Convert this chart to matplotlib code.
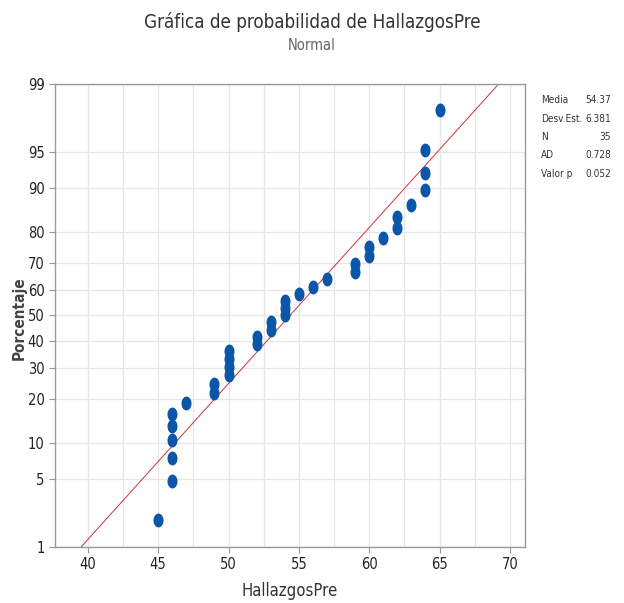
import numpy as np
import matplotlib
matplotlib.use("Agg")
import matplotlib.pyplot as plt
from matplotlib.path import Path
from matplotlib import font_manager
from matplotlib.font_manager import FontProperties
from statistics import NormalDist

# Data
values = [45, 46, 47, 49, 50, 52, 53, 54, 55, 56, 57, 59, 60, 61, 62, 63, 64, 65]
counts = [1, 5, 1, 2, 4, 2, 2, 3, 1, 1, 1, 2, 2, 1, 2, 1, 3, 1]
mean_val = 54.37
sd_val = 6.381
ad_val = 0.728
p_val = 0.052
pct_ticks = [1, 5, 10, 20, 30, 40, 50, 60, 70, 80, 90, 95, 99]
x_ticks = [40, 45, 50, 55, 60, 65, 70]

nd = NormalDist()
data = np.repeat(values, counts)
n = len(data)
ranks = np.arange(1, n + 1)
probs = (ranks - 0.3) / (n + 0.4)
yq = np.array([nd.inv_cdf(p) for p in probs])

cond = [f for f in font_manager.fontManager.ttflist
        if f.name == 'DejaVu Sans' and 'ondensed' in f.fname and 'Bold' not in f.fname
        and 'Oblique' not in f.fname]
condb = [f for f in font_manager.fontManager.ttflist
         if f.name == 'DejaVu Sans' and 'ondensed' in f.fname and 'Bold' in f.fname
         and 'Oblique' not in f.fname]


def fp(size):
    if cond:
        return FontProperties(fname=cond[0].fname, size=size)
    return FontProperties(family='DejaVu Sans', size=size)


def fpb(size):
    if condb:
        return FontProperties(fname=condb[0].fname, size=size)
    return FontProperties(family='DejaVu Sans', weight='bold', size=size)


plt.rcParams['font.family'] = ['DejaVu Sans']

fig = plt.figure(figsize=(6.24, 6.03), dpi=100)
ax = fig.add_axes([0.088, 0.093, 0.753, 0.768])

# ellipse marker
t = np.linspace(0, 2 * np.pi, 40)
verts = np.column_stack([0.72 * np.cos(t), np.sin(t)])
ell = Path(verts, closed=True)

ymin, ymax = nd.inv_cdf(0.01), nd.inv_cdf(0.99)
xmin, xmax = 37.66, 71.06

# grid
for xv in np.arange(37.5, 72, 2.5):
    if xmin < xv < xmax:
        ax.axvline(xv, color='#e6e6e6', lw=0.9, zorder=0)
for p in pct_ticks:
    ax.axhline(nd.inv_cdf(p / 100), color='#e6e6e6', lw=0.9, zorder=0)

# fitted line
zz = np.array([ymin - 0.5, ymax + 0.5])
ax.plot(mean_val + sd_val * zz, zz, color='#cc3333', lw=0.7, zorder=2)

ax.plot(data, yq, linestyle='none', marker=ell, markersize=10,
        color='#0a56a8', markeredgewidth=0, zorder=3)

ax.set_xlim(xmin, xmax)
ax.set_ylim(ymin, ymax)
ax.set_xticks(x_ticks)
ax.set_xticklabels([str(v) for v in x_ticks])
ax.set_yticks([nd.inv_cdf(p / 100) for p in pct_ticks])
ax.set_yticklabels([str(p) for p in pct_ticks])
ax.tick_params(axis='both', colors='#222222', length=4, width=0.8)
ax.tick_params(axis='both', color='#999999')
for lab in ax.get_xticklabels() + ax.get_yticklabels():
    lab.set_fontproperties(fp(10.5))
for s in ax.spines.values():
    s.set_color('#9a9a9a')
    s.set_linewidth(1.0)

fig.text(290 / 624, 1 - 591 / 603, 'HallazgosPre', ha='center', va='center',
         fontproperties=fp(12), color='#333333')
fig.text(19 / 624, 1 - 318 / 603, 'Porcentaje', rotation=90, ha='center', va='center',
         fontproperties=fpb(11), color='#444444')

fig.text(0.5, 1 - 22 / 603, 'Gráfica de probabilidad de HallazgosPre', ha='center', va='center',
         fontproperties=fp(13.5), color='#333333')
fig.text(0.5, 1 - 46 / 603, 'Normal', ha='center', va='center', fontproperties=fp(10.5), color='#666666')

labels = ['Media', 'Desv.Est.', 'N', 'AD', 'Valor p']
vals = [f'{mean_val:.2f}', f'{sd_val:.3f}', str(n), f'{ad_val:.3f}', f'{p_val:.3f}']
y0 = 1 - 100 / 603
for i, (l, v) in enumerate(zip(labels, vals)):
    yy = y0 - i * 18.5 / 603
    fig.text(541 / 624, yy, l, ha='left', va='center', fontproperties=fp(7.2), color='#333333')
    fig.text(611 / 624, yy, v, ha='right', va='center', fontproperties=fp(7.2), color='#333333')

fig.savefig('out.png', dpi=100)
